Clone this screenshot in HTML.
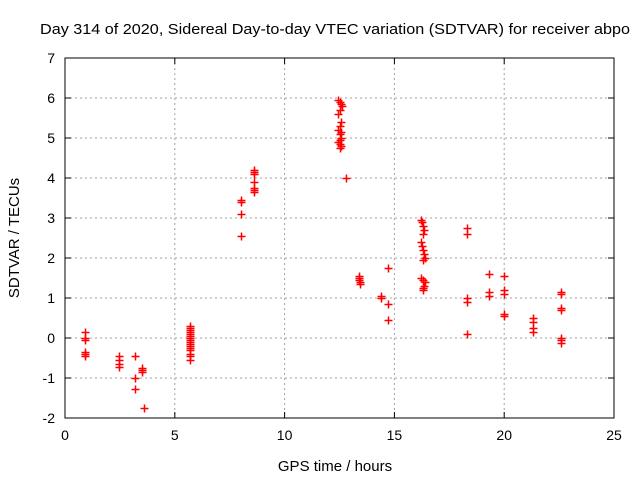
<!DOCTYPE html>
<html><head><meta charset="utf-8"><style>
html,body{margin:0;padding:0;background:#fff;}
svg{display:block;font-family:"Liberation Sans",sans-serif;}
</style></head><body>
<svg id="chart" width="640" height="480">
<text x="40" y="34" font-size="15" textLength="590" lengthAdjust="spacingAndGlyphs">Day 314 of 2020, Sidereal Day-to-day VTEC variation (SDTVAR) for receiver abpo</text>
<text x="335" y="471" font-size="15" text-anchor="middle">GPS time / hours</text>
<text transform="translate(19,238) rotate(-90)" font-size="15" text-anchor="middle">SDTVAR / TECUs</text>
<g id="grid"></g><g id="axes"></g><g id="marks"></g>
</svg>
<script>
const xTicks=[0,5,10,15,20,25];
const yTicks=[-2,-1,0,1,2,3,4,5,6,7];
const times=[0.9,0.9,0.9,0.9,0.9,0.9,2.45,2.45,2.45,2.45,3.2,3.2,3.2,3.5,3.5,3.5,3.6,
5.7,5.7,5.7,5.7,5.7,5.7,5.7,5.7,5.7,5.7,5.7,5.7,5.7,5.7,5.7,5.7,
8.0,8.0,8.0,8.0,8.6,8.6,8.6,8.6,8.6,8.6,8.6,
12.45,12.5,12.55,12.5,12.45,12.55,12.5,12.45,12.5,12.55,12.5,12.45,12.5,12.55,12.5,12.6,12.55,12.8,
13.4,13.4,13.4,13.45,13.45,14.4,14.4,14.7,14.7,14.7,
16.2,16.25,16.3,16.35,16.3,16.2,16.25,16.3,16.35,16.4,16.3,16.2,16.3,16.4,16.35,16.3,16.3,
18.3,18.3,18.3,18.3,18.3,19.3,19.3,19.3,20,20,20,20,20,21.3,21.3,21.3,21.3,
22.6,22.6,22.6,22.6,22.6,22.6,22.6];
const values=[0.15,0,-0.05,-0.35,-0.4,-0.45,-0.45,-0.55,-0.65,-0.72,-0.45,-1.0,-1.28,-0.75,-0.8,-0.85,-1.75,
0.3,0.25,0.2,0.15,0.1,0.05,0,-0.05,-0.1,-0.15,-0.2,-0.25,-0.3,-0.4,-0.45,-0.55,
3.45,3.4,3.1,2.55,4.2,4.15,4.1,3.9,3.75,3.7,3.65,
5.95,5.9,5.85,5.7,5.6,5.4,5.3,5.2,5.1,5.0,4.95,4.9,4.85,4.8,4.75,5.8,5.15,4.0,
1.55,1.5,1.45,1.4,1.35,1.05,1.0,1.75,0.85,0.45,
2.95,2.9,2.8,2.7,2.6,2.4,2.3,2.2,2.1,2.0,1.95,1.5,1.45,1.4,1.3,1.25,1.2,
2.75,2.6,1.0,0.9,0.1,1.6,1.15,1.05,1.55,1.2,1.1,0.6,0.55,0.5,0.4,0.25,0.15,
1.15,1.1,0.75,0.7,0,-0.05,-0.12];
const L=65,R=614,T=58,B=418;
const sx=v=>L+(v-0)/25*(R-L);
const sy=v=>B-(v+2)/9*(B-T);
const NS="http://www.w3.org/2000/svg";
const g=document.getElementById('grid'),ax=document.getElementById('axes'),mk=document.getElementById('marks');
function mkEl(t,a,p){const e=document.createElementNS(NS,t);for(const k in a)e.setAttribute(k,a[k]);p.appendChild(e);return e;}
xTicks.forEach(v=>{const x=sx(v);
 if(v>0&&v<25){const l=mkEl('line',{x1:x,y1:T,x2:x,y2:B,stroke:'#a0a0a0','stroke-dasharray':'2,3'},g);
 
 }
 mkEl('line',{x1:x,y1:B,x2:x,y2:B-6,stroke:'#000'},ax);
 mkEl('line',{x1:x,y1:T,x2:x,y2:T+6,stroke:'#000'},ax);
 const t=mkEl('text',{x:x,y:B+22,'font-size':14,'text-anchor':'middle'},ax);t.textContent=v;
 
 });
yTicks.forEach(v=>{const y=sy(v);
 if(v>-2&&v<7){const l=mkEl('line',{x1:L,y1:y,x2:R,y2:y,stroke:'#a0a0a0','stroke-dasharray':'2,3'},g);
 
 }
 mkEl('line',{x1:L,y1:y,x2:L+6,y2:y,stroke:'#000'},ax);
 mkEl('line',{x1:R,y1:y,x2:R-6,y2:y,stroke:'#000'},ax);
 const t=mkEl('text',{x:L-10,y:y+5,'font-size':14,'text-anchor':'end'},ax);t.textContent=v;
 
 });
const fr=mkEl('rect',{x:L,y:T,width:R-L,height:B-T,fill:'none',stroke:'#000'},ax);


times.forEach((t,i)=>{const x=Math.round(sx(t))+0.5,y=Math.round(sy(values[i]))+0.5;
 const p=mkEl('path',{d:`M${x-4},${y}H${x+4}M${x},${y-4}V${y+4}`,stroke:'#f00','stroke-width':1.5},mk);
 
 });
</script>
</body></html>
